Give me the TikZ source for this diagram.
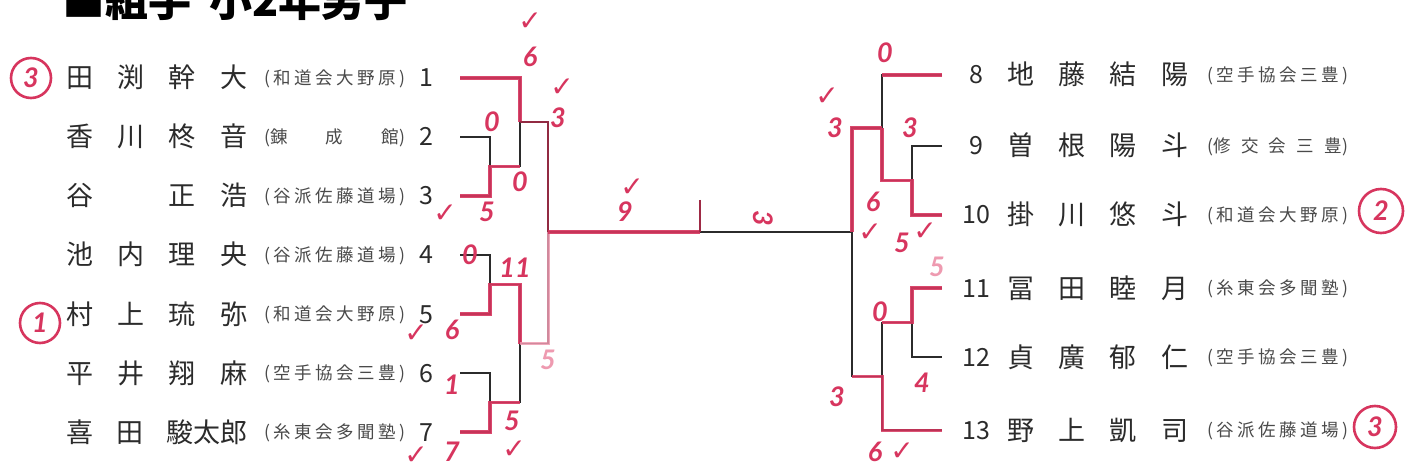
\documentclass[tikz,border=0pt]{standalone}
\usepackage{fontspec}
\setmainfont{Noto Sans CJK JP}
\newfontfamily\handfont{Lato}
\newfontfamily\symfont{DejaVu Sans}
\usetikzlibrary{calc}
\definecolor{ink}{HTML}{2B2B2B}
\definecolor{clubgray}{HTML}{4A4A4A}
\definecolor{pen}{HTML}{D7355E}
\definecolor{penlight}{HTML}{EE9AB0}
\definecolor{pendark}{HTML}{9E2A45}
\newcommand{\nmfont}{\fontsize{27}{27}\selectfont}
\newcommand{\clfont}{\fontsize{17.5}{17.5}\selectfont}
\newcommand{\numfont}{\fontsize{25}{25}\selectfont}
\newcommand{\scfont}{\handfont\bfseries\itshape\fontsize{27}{27}\selectfont}

\begin{document}
\begin{tikzpicture}[x=1pt,y=-1pt,
  nm/.style={anchor=base west,inner sep=0pt,yshift=-10pt,text=ink,font=\nmfont},
  cl/.style={anchor=base west,inner sep=0pt,yshift=-6.5pt,text=clubgray,font=\clfont},
  num/.style={anchor=base,inner sep=0pt,yshift=-9pt,text=ink,font=\numfont},
  wire/.style={draw=ink,line width=1.1pt},
  win/.style={draw=pen,line width=3.2pt,opacity=0.9},
  winlight/.style={draw=penlight,line width=3pt,opacity=0.85},
  score/.style={text=pen,font=\scfont,inner sep=0pt},
  chk/.style={text=pen,font=\symfont\bfseries\fontsize{28}{28}\selectfont,inner sep=0pt},
  ring/.style={circle,draw=pen,line width=2.6pt,minimum size=40pt,inner sep=0pt,text=pen,font=\scfont}]
\useasboundingbox[fill=white] (0,0) rectangle (1407,470);

% title, cut at the top edge
\node[anchor=base west,inner sep=0pt,font=\bfseries\fontsize{43}{43}\selectfont] (title) at (62,17) {■組手\hspace{18pt}小2年男子};

% left half of the draw
\foreach \k/\y/\who/\club in {
  1/78/{田 渕 幹 大}/{( 和 道 会 大 野 原 )},
  2/137/{香 川 柊 音}/{(錬 成 館)},
  3/196/{谷 \phantom{正} 正 浩}/{( 谷 派 佐 藤 道 場 )},
  4/255/{池 内 理 央}/{( 谷 派 佐 藤 道 場 )},
  5/314/{村 上 琉 弥}/{( 和 道 会 大 野 原 )},
  6/373/{平 井 翔 麻}/{( 空 手 協 会 三 豊 )},
  7/432/{喜 田 駿太郎}/{( 糸 東 会 多 聞 塾 )}}
{
  \node[nm] (n\k) at (66,\y) {\makebox[181pt][s]{\who}};
  \node[cl] (c\k) at (264,\y) {\makebox[141pt][s]{\club}};
  \node[num] (k\k) at (426,\y) {\k};
  \coordinate (p\k) at (460,\y);
}

% right half of the draw
\foreach \k/\y/\who/\club in {
  8/75/{地 藤 結 陽}/{( 空 手 協 会 三 豊 )},
  9/146/{曽 根 陽 斗}/{(修 交 会 三 豊)},
  10/215/{掛 川 悠 斗}/{( 和 道 会 大 野 原 )},
  11/288/{冨 田 睦 月}/{( 糸 東 会 多 聞 塾 )},
  12/357/{貞 廣 郁 仁}/{( 空 手 協 会 三 豊 )},
  13/430/{野 上 凱 司}/{( 谷 派 佐 藤 道 場 )}}
{
  \node[num] (k\k) at (976,\y) {\k};
  \node[nm] (n\k) at (1007,\y) {\makebox[181pt][s]{\who}};
  \node[cl] (c\k) at (1207,\y) {\makebox[141pt][s]{\club}};
  \coordinate (p\k) at (942,\y);
}

% junctions
\coordinate (m23) at (490,166.5);
\coordinate (q1) at (520,122);
\coordinate (m45) at (490,284.5);
\coordinate (m67) at (490,402.5);
\coordinate (q2) at (520,343.5);
\coordinate (sL) at (548,232);
\coordinate (m910) at (912,180.5);
\coordinate (q3) at (882,128);
\coordinate (m1112) at (912,322.5);
\coordinate (q4) at (882,376.5);
\coordinate (sR) at (852,232);
\coordinate (tk) at (700,200);

% printed bracket
\draw[wire] (p2) -| (m23) |- (p3);
\draw[wire] (p1) -| (q1) |- (m23);
\draw[wire] (p4) -| (m45) |- (p5);
\draw[wire] (p6) -| (m67) |- (p7);
\draw[wire] (m45) -| (q2) |- (m67);
\draw[wire] (q1) -| (sL) |- (q2);
\draw[wire] (sL) -- (sR);
\draw[wire] (p9) -| (m910) |- (p10);
\draw[wire] (p8) -| (q3) |- (m910);
\draw[wire] (p11) -| (m1112) |- (p12);
\draw[wire] (m1112) -| (q4) |- (p13);
\draw[wire] (q3) -| (sR) |- (q4);

% marker over the winners
\draw[win] (p1) -| (q1);
\draw[win] (p3) -| (m23) -- (m23 -| q1);
\draw[win,draw=pendark,line width=2pt] (q1) -| (sL);
\draw[win] (p5) -| (m45) -| (q2);
\draw[winlight] (q2) -| (sL);
\draw[win] (p7) -| (m67) -- (m67 -| q2);
\draw[win] (sL) -- (tk |- sL);
\draw[draw=pendark,line width=2.2pt] (tk) -- (tk |- sL);
\draw[win] (p8) -- (p8 -| q3);
\draw[win] (p10) -| (m910) -| (q3);
\draw[win] (q3) -| (sR);
\draw[win] (p11) -| (m1112) -- (m1112 -| q4);
\draw[winlight,draw=pen] (p13) -| (q4) -- (q4 -| sR);

% handwritten scores
\foreach \t/\x/\y [count=\i] in {6/530/57, 3/558/118, 0/492/122, 0/520/182, 5/487/212,
  9/625/212, 0/470/255, 11/515/268, 6/452/330, 1/452/385, 5/512/421, 7/452/452,
  0/885/53, 3/835/128, 3/910/128, 6/873/202, 5/902/243, 0/880/312, 4/922/383,
  3/837/397, 6/875/452}
  \node[score] (s\i) at (\x,\y) {\t};
\node[score,rotate=-90] (s22) at (763,218) {3};
\node[score,text=penlight] (s23) at (548,360) {5};
\node[score,text=penlight] (s24) at (937,267) {5};

% check marks
\foreach \x/\y [count=\i] in {530/22, 562/88, 445/214, 632/188, 416/334, 514/450,
  416/456, 827/97, 925/232, 902/452, 870/233}
  \node[chk] (v\i) at (\x,\y) {✓};

% places
\node[ring] (r1) at (31,78) {3};
\node[ring] (r2) at (40,323) {1};
\node[ring,minimum size=44pt] (r3) at (1381,211) {2};
\node[ring,minimum size=42pt] (r4) at (1375,427) {3};
\end{tikzpicture}
\end{document}
